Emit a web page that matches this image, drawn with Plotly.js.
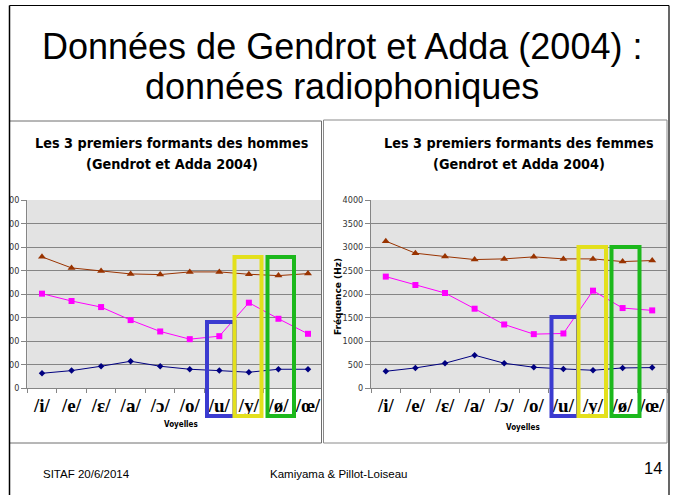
<!DOCTYPE html>
<html><head><meta charset="utf-8">
<script src="https://cdn.plot.ly/plotly-3.0.1.min.js"></script>
<style>html,body{margin:0;padding:0;background:#fff}#chart{width:673px;height:495px}</style>
</head><body><div id="chart"></div>
<script>
// ---- data ----
const categories = ['/i/','/e/','/ɛ/','/a/','/ɔ/','/o/','/u/','/y/','/ø/','/œ/'];
const hommesF1 = [313, 370, 463, 569, 463, 399, 370, 335, 399, 399];
const hommesF2 = [2007, 1851, 1722, 1445, 1203, 1039, 1103, 1815, 1473, 1153];
const hommesF3 = [2790, 2555, 2491, 2427, 2413, 2470, 2470, 2420, 2391, 2434];
const femmesF1 = [356, 427, 527, 698, 527, 441, 406, 377, 427, 434];
const femmesF2 = [2370, 2192, 2021, 1687, 1352, 1146, 1160, 2071, 1701, 1651];
const femmesF3 = [3125, 2868, 2797, 2733, 2747, 2790, 2747, 2747, 2690, 2712];
const yTicks = [0, 500, 1000, 1500, 2000, 2500, 3000, 3500, 4000];

const slideTitle1 = 'Données de Gendrot et Adda (2004) :';
const slideTitle2 = 'données radiophoniques';
const chartTitleH = ['Les 3 premiers formants des hommes', '(Gendrot et Adda 2004)'];
const chartTitleF = ['Les 3 premiers formants des femmes', '(Gendrot et Adda 2004)'];
const xTitle = 'Voyelles';
const yTitle = 'Fréquence (Hz)';
const footerLeft = 'SITAF 20/6/2014';
const footerMid = 'Kamiyama & Pillot-Loiseau';
const pageNum = '14';

// ---- layout helpers ----
const W = 673, H = 495;
const px = x => x / W;
const py = y => 1 - y / H;

const F1c = '#000080', F2c = '#ff00ff', F3c = '#993300';
function series(y, xa, ya, color, symbol, size, name) {
  return {x: categories, y: y, xaxis: xa, yaxis: ya, type: 'scatter', mode: 'lines+markers',
    name: name, line: {color: color, width: 1}, marker: {color: color, symbol: symbol, size: size},
    cliponaxis: false, hoverinfo: 'skip'};
}
const traces = [
  series(hommesF1, 'x', 'y', F1c, 'diamond', 5, 'F1'),
  series(hommesF2, 'x', 'y', F2c, 'square', 6, 'F2'),
  series(hommesF3, 'x', 'y', F3c, 'triangle-up', 7, 'F3'),
  series(femmesF1, 'x2', 'y2', F1c, 'diamond', 5, 'F1'),
  series(femmesF2, 'x2', 'y2', F2c, 'square', 6, 'F2'),
  series(femmesF3, 'x2', 'y2', F3c, 'triangle-up', 7, 'F3')
];

const axisGray = '#858585';
function xAxis(d0, d1, anchor, rmax) {
  return {domain: [px(d0), px(d1)], anchor: anchor, type: 'category', range: [-0.5, rmax],
    showgrid: false, showline: true, linecolor: axisGray, ticks: 'outside', tickson: 'boundaries',
    ticklen: 4, tickcolor: axisGray, zeroline: false, fixedrange: true, tickangle: 0,
    tickfont: {family: 'Liberation Serif, Times New Roman, serif', size: 19, color: '#000', weight: 'bold'}};
}
function yAxis(anchor) {
  return {domain: [py(388), py(200)], anchor: anchor, range: [0, 4000], tickvals: yTicks,
    showgrid: true, gridcolor: axisGray, gridwidth: 1, showline: true, linecolor: axisGray,
    ticks: 'outside', ticklen: 5, tickcolor: axisGray, zeroline: false, fixedrange: true,
    tickfont: {family: 'DejaVu Sans Condensed, DejaVu Sans, sans-serif', size: 9, color: '#333'}};
}

function rect(x0, y0, x1, y1, color, width, layer, fill) {
  return {type: 'rect', xref: 'paper', yref: 'paper', x0: px(x0), x1: px(x1), y0: py(y1), y1: py(y0),
    line: {color: color, width: width}, fillcolor: fill || 'rgba(0,0,0,0)', layer: layer || 'above'};
}
function line(x0, y0, x1, y1, color, width) {
  return {type: 'line', xref: 'paper', yref: 'paper', x0: px(x0), x1: px(x1), y0: py(y0), y1: py(y1),
    line: {color: color, width: width}, layer: 'above'};
}
const blue = '#3b3bd0', yellow = '#e3e01c', green = '#1cb81c';
const shapes = [
  // panels
  rect(9.5, 121, 321.5, 443, '#6e6e6e', 1, 'below'),
  rect(323.5, 120, 667, 443, '#8a8a8a', 1, 'below'),
  // white cover clipping the left chart's tick labels at the slide edge
  {type: 'rect', xref: 'paper', yref: 'paper', x0: 0, x1: px(9.5), y0: 0, y1: 1,
    line: {width: 0}, fillcolor: '#ffffff', layer: 'above'},
  // slide border
  line(9.5, 5.5, 669, 5.5, '#000', 1.2),
  line(9.5, 5.5, 9.5, 495, '#000', 1.5),
  line(669, 5.5, 669, 495, '#000', 1.2),
  // highlight boxes (men)
  rect(207, 322, 234.5, 416, blue, 4),
  rect(234.5, 257, 261.5, 416, yellow, 4),
  rect(267.5, 257, 294, 416, green, 4),
  // highlight boxes (women)
  rect(551.5, 317, 578, 416, blue, 4),
  rect(578.5, 247, 606, 416, yellow, 4),
  rect(611.5, 247, 639.5, 416, green, 4)
];

function txt(text, x, y, size, family, opts) {
  return Object.assign({text: text, x: px(x), y: py(y), xref: 'paper', yref: 'paper', showarrow: false,
    xanchor: 'center', yanchor: 'middle', font: {family: family, size: size, color: '#000'}}, opts || {});
}
const sans = 'Liberation Sans, Arial, sans-serif';
const condB = 'DejaVu Sans Condensed, DejaVu Sans, sans-serif';
const bold = (f, s) => ({family: f, size: s, color: '#000', weight: 'bold'});
const annotations = [
  txt(slideTitle1, 342, 46, 36, sans),
  txt(slideTitle2, 342, 86, 36, sans),
  txt(chartTitleH[0], 171.5, 143, 14.3, condB, {font: bold(condB, 14.3)}),
  txt(chartTitleH[1], 171.5, 164, 14.3, condB, {font: bold(condB, 14.3)}),
  txt(chartTitleF[0], 519, 143, 14.3, condB, {font: bold(condB, 14.3)}),
  txt(chartTitleF[1], 519, 164, 14.3, condB, {font: bold(condB, 14.3)}),
  txt(xTitle, 181, 424, 8, condB, {font: bold(condB, 8)}),
  txt(xTitle, 523, 427, 8, condB, {font: bold(condB, 8)}),
  txt(yTitle, 338, 297, 9, condB, {textangle: -90, font: bold('DejaVu Sans, sans-serif', 9)}),
  txt(footerLeft, 41, 474, 11.5, sans, {xanchor: 'left'}),
  txt(footerMid, 338, 474, 11.5, sans),
  txt(pageNum, 653, 468, 16.5, sans)
];

const layout = {
  width: W, height: H, margin: {l: 0, r: 0, t: 0, b: 0},
  paper_bgcolor: '#ffffff', plot_bgcolor: '#e3e3e3', showlegend: false,
  xaxis: xAxis(27.2, 321, 'y', 9.44),
  yaxis: yAxis('x'),
  xaxis2: xAxis(371, 667, 'y2', 9.5),
  yaxis2: yAxis('x2'),
  shapes: shapes, annotations: annotations, hovermode: false
};
Plotly.newPlot('chart', traces, layout, {staticPlot: true, displayModeBar: false});
</script></body></html>
